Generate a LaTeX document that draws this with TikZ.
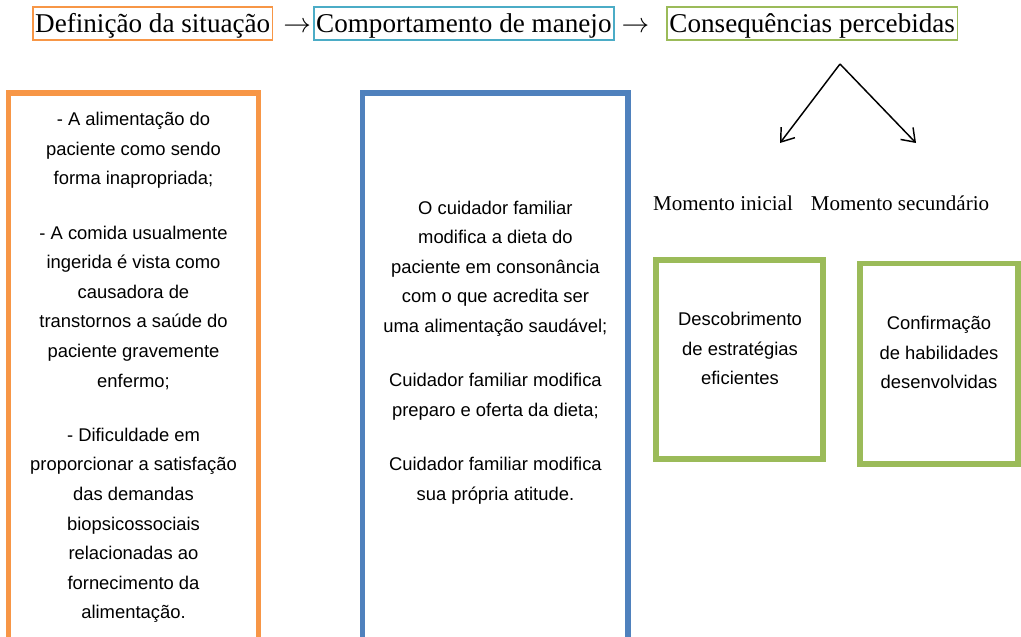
\documentclass[tikz,border=0pt]{standalone}
\usepackage{fontspec}
\usepackage{tikz}
\usetikzlibrary{positioning,arrows.meta}
\newfontfamily\headfont{Liberation Serif}
\newfontfamily\bodyfont{Liberation Sans}
\definecolor{sitorange}{HTML}{F79646}
\definecolor{manteal}{HTML}{4BACC6}
\definecolor{manblue}{HTML}{4F81BD}
\definecolor{congreen}{HTML}{9BBB59}
\tikzset{
headbox/.style={draw=#1, line width=1.2pt, inner xsep=1.8pt, inner ysep=0pt, % framed words of the title line
  font=\headfont\fontsize{20.35}{24}\selectfont, minimum height=24.75pt, text height=16.5pt, text depth=3pt},
headarrow/.style={inner sep=0pt, font=\headfont\fontsize{20.35}{24}\selectfont, text height=16.5pt, text depth=3pt},
moment/.style={inner sep=0pt, font=\headfont\fontsize{15.8}{19}\selectfont},
frame/.style={draw=#1, line width=4.3pt}, % thick coloured boxes
boxtext/.style={inner sep=0pt, align=center, font=\bodyfont\fontsize{13.8}{22.2}\selectfont},
}

\begin{document}
\begin{tikzpicture}[x=0.75pt,y=-0.75pt]
    \useasboundingbox (0,0) rectangle (1021,636);
    % title line
    \node[headbox=sitorange, anchor=west] (hdr_1) at (32,23.5) {Definição da situação};
    \node[headarrow] (arr_1) [right=7.3pt of hdr_1] {$\rightarrow$};
    \node[headbox=manteal] (hdr_2) [right=1.2pt of arr_1] {Comportamento de manejo};
    \node[headarrow] (arr_2) [right=5pt of hdr_2] {$\rightarrow$};
    \node[headbox=congreen] (hdr_3) [right=12.5pt of arr_2] {Consequências percebidas};

    % the two moments
    \coordinate (apex) at (840,64);
    \coordinate (ini_end) at (780,143);
    \coordinate (sec_end) at (916,143);
    \path[-{Straight Barb[length=9pt,width=13pt]}, line width=1.1pt]
    (apex) edge (ini_end)
    (apex) edge (sec_end);
    \node[moment] (mom_1) at (723,203) {Momento inicial};
    \node[moment] (mom_2) at (900,203) {Momento secundário};

    % boxes
    \draw[frame=sitorange] (8.5,93) rectangle (258.5,660);
    \draw[frame=manblue] (362.5,93) rectangle (628.3,660);
    \draw[frame=congreen] (656,260) rectangle (823,459);
    \draw[frame=congreen] (859.7,263.5) rectangle (1018,464);

    \node[boxtext] (txt_1) at (133.5,367.5) {- A alimentação do\\paciente como sendo\\forma inapropriada;\\[18.5pt]
      - A comida usualmente\\ingerida é vista como\\causadora de\\transtornos a saúde do\\paciente gravemente\\enfermo;\\[18.5pt]
      - Dificuldade em\\proporcionar a satisfação\\das demandas\\biopsicossociais\\relacionadas ao\\fornecimento da\\alimentação.};
    \node[boxtext] (txt_2) at (495.4,352.5) {O cuidador familiar\\modifica a dieta do\\paciente em consonância\\com o que acredita ser\\uma alimentação saudável;\\[18.5pt]
      Cuidador familiar modifica\\preparo e oferta da dieta;\\[18.5pt]
      Cuidador familiar modifica\\sua própria atitude.};
    \node[boxtext] (txt_3) at (740,348.5) {Descobrimento\\de estratégias\\eficientes};
    \node[boxtext] (txt_4) at (939,352.5) {Confirmação\\de habilidades\\desenvolvidas};
\end{tikzpicture}
\end{document}
